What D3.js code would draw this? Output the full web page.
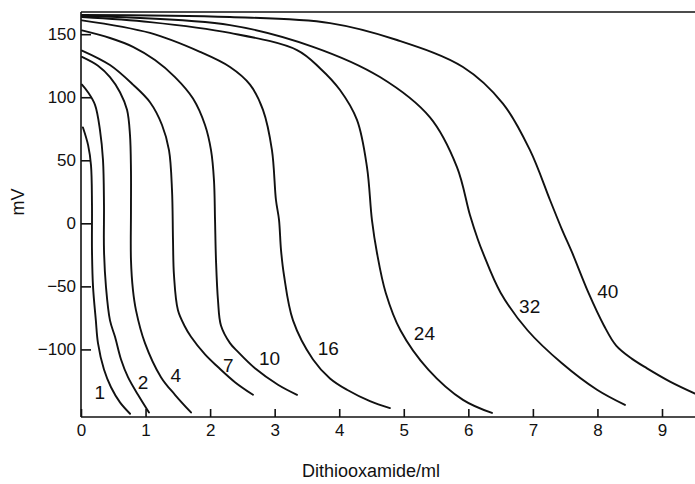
<!DOCTYPE html>
<html><head>
<meta charset="utf-8">
<script src="https://cdn.jsdelivr.net/npm/d3@7"></script>
<style>
  body { margin: 0; background: #fff; }
  text { font-family: "Liberation Sans", Arial, sans-serif; fill: #111; }
  .tick text { font-size: 17px; }
  .curve { fill: none; stroke: #111; stroke-width: 1.9; stroke-linecap: round; }
</style>
</head><body>
<script>
// potential (mV) vs volume of dithiooxamide (ml), one array per curve
const curve1  = [[0.03,76],[0.11,62],[0.155,46],[0.17,15],[0.17,-21],[0.186,-50],[0.23,-77],[0.263,-95],[0.356,-116],[0.465,-130],[0.604,-142],[0.76,-151]];
const curve2  = [[0.015,110],[0.108,104],[0.217,94],[0.294,74],[0.341,50],[0.356,14.5],[0.356,-21],[0.387,-50.5],[0.449,-77],[0.527,-90],[0.62,-108],[0.728,-122],[0.883,-136],[1.053,-150]];
const curve4  = [[0.015,132],[0.263,125],[0.449,116],[0.604,104],[0.713,90],[0.759,70],[0.774,42],[0.774,10],[0.774,-29],[0.805,-53],[0.852,-69],[0.991,-95],[1.239,-122],[1.456,-136],[1.704,-150]];
const curve7  = [[0.015,137],[0.449,125.5],[0.805,110],[1.069,96],[1.255,78],[1.363,58],[1.41,26],[1.425,-13],[1.44,-41],[1.502,-69],[1.611,-82],[1.704,-90],[1.921,-104],[2.122,-114],[2.385,-126],[2.664,-136]];
const curve10 = [[0.015,153],[0.449,147],[0.805,140],[1.146,129.5],[1.456,116],[1.735,99],[1.921,78],[2.014,58],[2.06,34],[2.076,3],[2.091,-29],[2.122,-61],[2.168,-81],[2.308,-95],[2.432,-102],[2.695,-115],[3.051,-128],[3.346,-136]];
const curve16 = [[0.015,161],[1.069,151],[1.843,136],[2.308,124],[2.618,110],[2.819,90],[2.958,58],[3.02,18.5],[3.067,3],[3.098,-21],[3.144,-41],[3.284,-77],[3.594,-108],[3.857,-123],[4.12,-132],[4.476,-141],[4.786,-146.5]];
const curve24 = [[0.015,163.6],[1.069,159.6],[2.308,151],[3.346,137.4],[3.702,123],[4.012,105.7],[4.275,82],[4.43,44.6],[4.507,2.6],[4.585,-23.5],[4.72,-55],[4.95,-85],[5.38,-116],[5.917,-140],[6.366,-150.4]];
const curve32 = [[0.015,164.4],[2.308,157.2],[3.594,140],[4.631,116],[5.406,84],[5.824,44.6],[6.025,6.6],[6.149,-13],[6.227,-23.5],[6.5,-55],[6.92,-85],[7.45,-111],[7.993,-132],[8.426,-144]];
const curve40 = [[0.015,165.2],[2.308,163.6],[3.857,158.8],[4.895,145.4],[5.917,124],[6.536,95],[6.955,58],[7.265,18.5],[7.451,-5],[7.61,-23.5],[7.86,-55],[8.1,-81],[8.29,-97],[8.536,-107.5],[8.768,-115],[9.124,-125.5],[9.511,-135]];

const curves      = [curve1, curve2, curve4, curve7, curve10, curve16, curve24, curve32, curve40];
const curveLabels = ["1", "2", "4", "7", "10", "16", "24", "32", "40"];
const labelAt     = [[0.29,-134],[0.96,-126.5],[1.47,-121],[2.28,-113],[2.92,-107],[3.83,-99],[5.32,-87],[6.95,-65.6],[8.16,-53.7]];

const xTicks = [0, 1, 2, 3, 4, 5, 6, 7, 8, 9];
const yTicks = [-100, -50, 0, 50, 100, 150];

const W = 695, H = 484;
const svg = d3.select("body").append("svg")
    .attr("width", W).attr("height", H);

const x = d3.scaleLinear().domain([0, 9]).range([81, 662]);
const y = d3.scaleLinear().domain([-153.6, 167.6]).range([417, 12]);

// frame: left axis, bottom axis and top rule
svg.append("g")
    .attr("transform", "translate(0,417)")
    .call(d3.axisBottom(x).tickValues(xTicks).tickFormat(d3.format("d"))
        .tickSizeInner(-8).tickSizeOuter(0).tickPadding(7))
    .call(g => g.select(".domain").attr("d", "M81,0H" + W))
    .call(g => g.selectAll("line,path").attr("stroke", "#111").attr("stroke-width", 1.6));

svg.append("g")
    .attr("transform", "translate(81,0)")
    .call(d3.axisLeft(y).tickValues(yTicks)
        .tickFormat(d => d < 0 ? "\u2212" + Math.abs(d) : d)
        .tickSizeInner(-10).tickSizeOuter(0).tickPadding(5))
    .call(g => g.select(".domain").attr("d", "M0,12V417"))
    .call(g => g.selectAll("line,path").attr("stroke", "#111").attr("stroke-width", 1.6));

svg.append("line")
    .attr("x1", 81).attr("x2", W).attr("y1", 12).attr("y2", 12)
    .attr("stroke", "#111").attr("stroke-width", 1.6);

// titration curves
const line = d3.line()
    .x(d => x(d[0])).y(d => y(d[1]))
    .curve(d3.curveCatmullRom.alpha(0.5));

svg.append("g").selectAll("path")
    .data(curves)
    .join("path")
    .attr("class", "curve")
    .attr("d", line);

svg.append("g").selectAll("text")
    .data(curveLabels)
    .join("text")
    .attr("x", (d, i) => x(labelAt[i][0]))
    .attr("y", (d, i) => y(labelAt[i][1]))
    .attr("text-anchor", "middle")
    .attr("dominant-baseline", "central")
    .attr("font-size", 19)
    .text(d => d);

// axis titles
svg.append("text")
    .attr("x", 371).attr("y", 477)
    .attr("text-anchor", "middle")
    .attr("font-size", 18)
    .text("Dithiooxamide/ml");

svg.append("text")
    .attr("transform", "translate(24,202) rotate(-90)")
    .attr("text-anchor", "middle")
    .attr("font-size", 18)
    .text("mV");
</script>
</body></html>
